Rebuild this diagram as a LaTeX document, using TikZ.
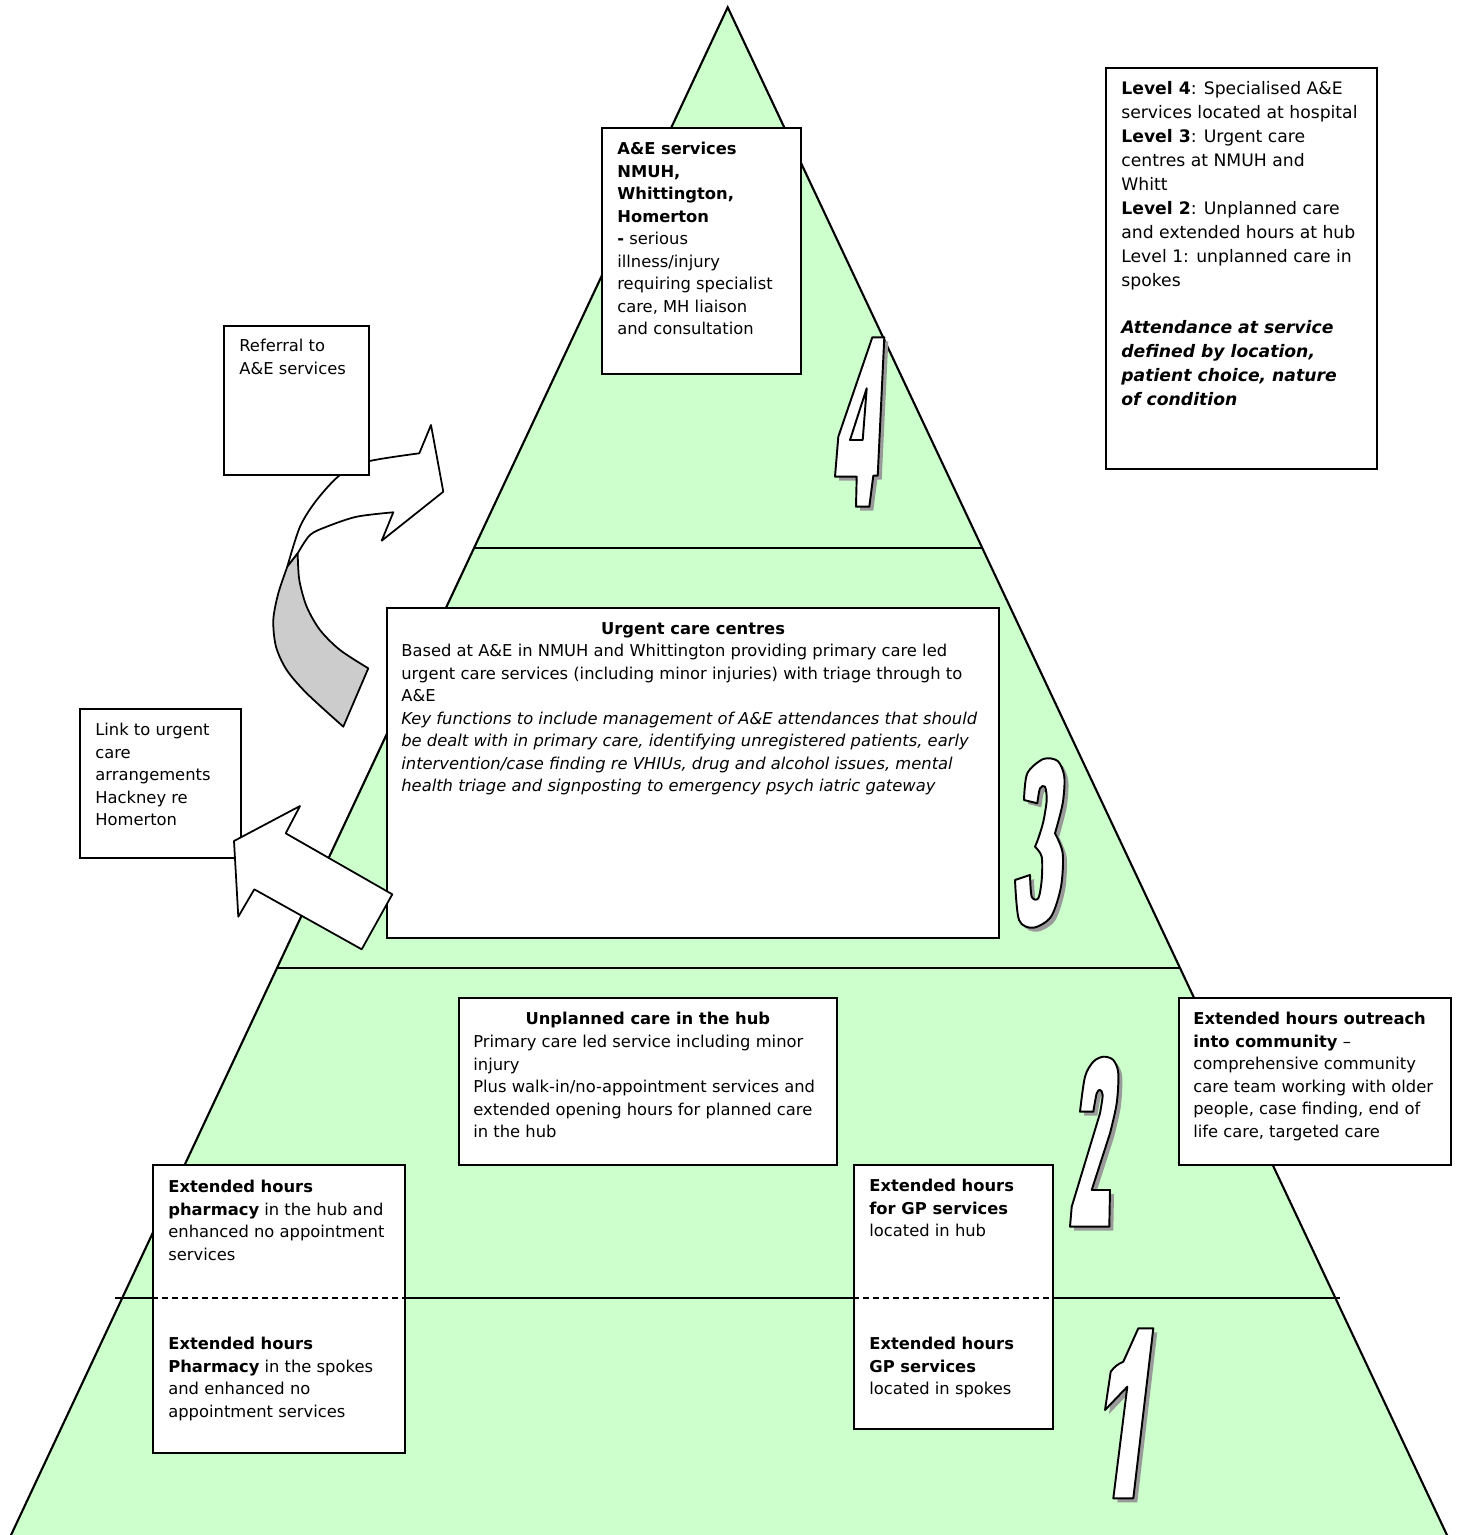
\documentclass[tikz,border=0pt]{standalone}
\usepackage{fontspec}
\setmainfont{DejaVu Sans}
\usetikzlibrary{positioning}
\definecolor{pyrGreen}{HTML}{CCFFCC}
\definecolor{twistGray}{HTML}{CCCCCC}
\definecolor{shadowGray}{HTML}{9A9A9A}

% level numerals, pixel coordinates
\newcommand{\digitfour}{(872.3,337.3) -- (884.3,337.3) -- (877.7,475.7) -- (873.3,475.7) -- (869.3,506.7) -- (856,506.7) -- (856.7,476.7) -- (835,476.7) -- (838.3,436.7) -- cycle (866.7,388.3) -- (862.7,440) -- (850,440) -- cycle}
\newcommand{\digitthree}{plot[smooth] coordinates {(1024,800) (1027.3,773.3) (1043.3,759) (1057.7,761) (1064.3,776.7) (1062.7,803.3) (1055,833.3)} -- plot[smooth] coordinates {(1055,833.3) (1062.7,853.3) (1061,886.7) (1051,916.7) (1033.3,927.7) (1019,920) (1015,880)} -- plot[smooth] coordinates {(1030,875) (1031.7,896.7) (1038.3,898.3) (1041.7,880) (1041.7,856.7) (1035,846.7)} -- plot[smooth] coordinates {(1035,846.7) (1038.3,838.3) (1043.3,821.7) (1046.7,800) (1045,786.7) (1040,788.3) (1037.3,803.3)} -- cycle}
\newcommand{\digittwo}{plot[smooth] coordinates {(1080,1111.7) (1085,1076.7) (1093.3,1061.7) (1103.3,1056.7) (1113.3,1060) (1118.3,1073.3) (1116.7,1103.3) (1110,1133.3)} -- (1091.7,1190) -- (1110,1190) -- (1109.3,1226.7) -- (1070,1226.7) -- (1071.7,1206.7) -- plot[smooth] coordinates {(1100,1113.3) (1102.7,1095) (1100,1090) (1096.7,1093.3) (1093.3,1111.7)} -- cycle}
\newcommand{\digitone}{(1138.3,1328.3) -- (1153.3,1328.3) -- (1133.3,1498.3) -- (1113.3,1498.3) -- (1127.3,1386.7) -- (1105,1410) -- (1110.7,1371.7) to[bend left=15] (1123.3,1361.7) -- cycle}

\tikzset{
  panel/.style={draw, fill=white, line width=1.3pt, inner sep=0pt, anchor=north west},
  thinpanel/.style={panel, line width=1pt},
  txt/.style={align=left, inner sep=0pt, font=\fontsize{9.3pt}{12.8pt}\selectfont},
  bigtxt/.style={txt, font=\fontsize{9.8pt}{13.6pt}\selectfont},
  numeral/.style={draw=black, fill=white, line width=1.1pt, line join=round},
  numshadow/.style={fill=shadowGray, shift={(4,4)}},
  twist/.style={draw=black, line width=1pt, line join=round},
  levelline/.style={line width=1.2pt},
  splitline/.style={line width=1.1pt, dash pattern=on 0.12cm off 0.08cm}
}

\begin{document}
\begin{tikzpicture}[x=0.02cm, y=-0.02cm]
\useasboundingbox (0,0) rectangle (1458,1535);

% pyramid
\filldraw[fill=pyrGreen, levelline] (727.7,7.3) -- (1449.3,1540) -- (8.7,1540) -- cycle;
\draw[levelline] (474.1,548) -- (982.3,548);
\draw[levelline] (277,968) -- (1180,968);
\draw[levelline] (115,1298) -- (1340,1298);

% numerals
\foreach \d in {\digitfour, \digitthree, \digittwo, \digitone} {
  \fill[numshadow] \d;
  \filldraw[numeral] \d;
}

% curved arrow to A&E
\filldraw[twist, fill=white] (443.3,491.7) -- (431,425) -- (419.3,453.3)
  -- plot[smooth] coordinates {(419.3,453.3) (366.7,461.7) (340,475) (316.7,500) (300,526.7) (287.3,566.7)}
  -- (297.7,553.3)
  -- plot[smooth] coordinates {(297.7,553.3) (310,535) (326.7,526.7) (356.7,516.7) (393.3,512.3)}
  -- (381.7,540.7) -- cycle;
\filldraw[twist, fill=twistGray]
  plot[smooth] coordinates {(287.3,566.7) (278.3,593.3) (273.3,620) (276,646.7) (286.7,670) (306.7,693.3) (343.3,726.7)}
  -- (368.3,668.3)
  -- plot[smooth] coordinates {(368.3,668.3) (340,650) (320,630) (306.7,606.7) (299.3,580) (297.7,553.3)}
  -- cycle;

% boxes
\node[panel, minimum width=3.98cm, minimum height=4.92cm] (aebox) at (601,127) {};
\node[txt, below right=0.3cm and 0.32cm of aebox.north west] (aetext)
  {\textbf{A\&E services}\\ \textbf{NMUH,}\\ \textbf{Whittington,}\\ \textbf{Homerton}\\
   \textbf{-} serious\\ illness/injury\\ requiring specialist\\ care, MH liaison\\ and consultation};

\node[panel, minimum width=5.42cm, minimum height=8.02cm] (legend) at (1105,67) {};
\node[bigtxt, below right=0.29cm and 0.32cm of legend.north west] (legendtext)
  {\textbf{Level 4}: Specialised A\&E\\ services located at hospital\\
   \textbf{Level 3}: Urgent care\\ centres at NMUH and\\ Whitt\\
   \textbf{Level 2}: Unplanned care\\ and extended hours at hub\\
   Level 1: unplanned care in\\ spokes\\[13.6pt]
   \textbf{\textit{Attendance at service}}\\ \textbf{\textit{defined by location,}}\\
   \textbf{\textit{patient choice, nature}}\\ \textbf{\textit{of condition}}};

\node[thinpanel, minimum width=2.9cm, minimum height=2.98cm] (referral) at (223,325) {};
\node[txt, below right=0.28cm and 0.32cm of referral.north west] (referraltext)
  {Referral to\\ A\&E services};

\node[thinpanel, minimum width=3.22cm, minimum height=2.98cm] (link) at (79,708) {};
\node[txt, below right=0.3cm and 0.32cm of link.north west] (linktext)
  {Link to urgent\\ care\\ arrangements\\ Hackney re\\ Homerton};

\node[panel, minimum width=12.24cm, minimum height=6.6cm] (urgent) at (386,607) {};
\node[txt, below=0.3cm of urgent.north] (urgenttitle) {\textbf{Urgent care centres}};
\node[txt, below right=0.74cm and 0.3cm of urgent.north west] (urgenttext)
  {Based at A\&E in NMUH and Whittington providing primary care led\\
   urgent care services (including minor injuries) with triage through to\\
   A\&E\\
   \textit{Key functions to include management of A\&E attendances that should}\\
   \textit{be dealt with in primary care, identifying unregistered patients, early}\\
   \textit{intervention/case finding re VHIUs, drug and alcohol issues, mental}\\
   \textit{health triage and signposting to emergency psych iatric gateway}};

\node[thinpanel, minimum width=7.56cm, minimum height=3.34cm] (hub) at (458,997) {};
\node[txt, below=0.3cm of hub.north] (hubtitle) {\textbf{Unplanned care in the hub}};
\node[txt, below right=0.76cm and 0.3cm of hub.north west] (hubtext)
  {Primary care led service including minor\\ injury\\
   Plus walk-in/no-appointment services and\\ extended opening hours for planned care\\ in the hub};

\node[panel, minimum width=5.44cm, minimum height=3.34cm] (outreach) at (1178,997) {};
\node[txt, below right=0.3cm and 0.3cm of outreach.north west] (outreachtext)
  {\textbf{Extended hours outreach}\\ \textbf{into community} –\\ comprehensive community\\
   care team working with older\\ people, case finding, end of\\ life care, targeted care};

\node[panel, minimum width=5.04cm, minimum height=5.76cm] (pharmacy) at (152,1164) {};
\node[txt, below right=0.32cm and 0.32cm of pharmacy.north west] (pharmhub)
  {\textbf{Extended hours}\\ \textbf{pharmacy} in the hub and\\ enhanced no appointment\\ services};
\node[txt, below right=3.46cm and 0.32cm of pharmacy.north west] (pharmspokes)
  {\textbf{Extended hours}\\ \textbf{Pharmacy} in the spokes\\ and enhanced no\\ appointment services};

\node[thinpanel, minimum width=3.98cm, minimum height=5.28cm] (gp) at (853,1164) {};
\node[txt, below right=0.3cm and 0.32cm of gp.north west] (gphub)
  {\textbf{Extended hours}\\ \textbf{for GP services}\\ located in hub};
\node[txt, below right=3.46cm and 0.32cm of gp.north west] (gpspokes)
  {\textbf{Extended hours}\\ \textbf{GP services}\\ located in spokes};

% hub / spokes split inside boxes
\draw[splitline] (pharmacy.west |- 0,1298) -- (pharmacy.east |- 0,1298);
\draw[splitline] (gp.west |- 0,1298) -- (gp.east |- 0,1298);

% block arrow to urgent care link
\filldraw[twist, fill=white] (234,841) -- (300,806) -- (285.7,833.3) -- (392.3,894.3)
  -- (361.7,949.3) -- (254.3,889.3) -- (238.3,916.7) -- cycle;
\end{tikzpicture}
\end{document}
